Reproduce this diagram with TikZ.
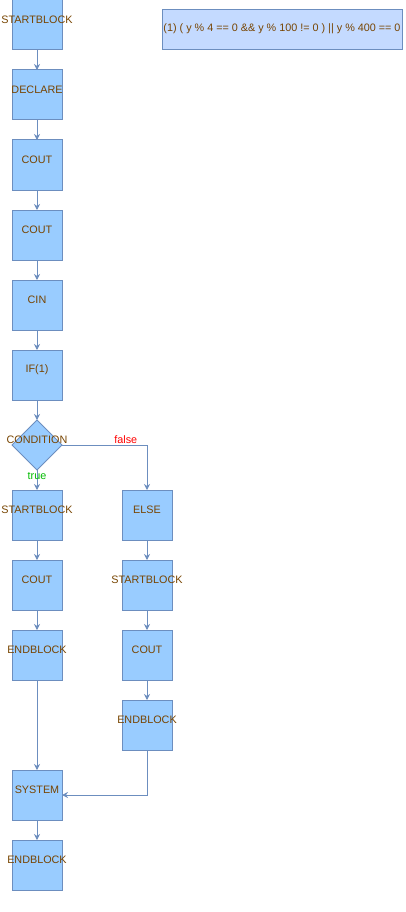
\documentclass[tikz,border=0pt]{standalone}
\usepackage{fontspec}
\setmainfont{Liberation Sans}
\usetikzlibrary{positioning, shapes.geometric, arrows.meta}
\definecolor{boxfill}{HTML}{99CCFF}
\definecolor{boxline}{HTML}{6C8EBF}
\definecolor{notefill}{HTML}{C4DAFF}
\definecolor{nametext}{HTML}{774400}
\definecolor{truegreen}{HTML}{00BB00}
\definecolor{falsered}{HTML}{FF0000}

\begin{document}
\begin{tikzpicture}[x=1pt, y=-1pt, node distance=20pt, >={Stealth[length=6pt, width=6pt]},
        every node/.style={font=\fontsize{10.8}{13}\selectfont, text=nametext},
        block/.style={draw=boxline, fill=boxfill, line width=1pt, minimum size=50pt, inner sep=0pt, outer sep=0pt, label={[yshift=5pt]center:#1}},
        cond/.style={diamond, draw=boxline, fill=boxfill, line width=1pt, minimum width=50pt, minimum height=50pt, inner sep=0pt, outer sep=0pt, label={[yshift=5pt]center:#1}},
        note/.style={draw=boxline, fill=notefill, line width=1pt, minimum width=240pt, minimum height=40pt, inner sep=0pt, outer sep=0pt}]
        \useasboundingbox (0,0) rectangle (406,912);
        \node[block=STARTBLOCK] (start) at (37,25) {};
        \node[block=DECLARE, below=of start] (decl) {};
        \node[block=COUT, below=of decl] (cout1) {};
        \node[block=COUT, below=of cout1] (cout2) {};
        \node[block=CIN, below=of cout2] (cin) {};
        \node[block=IF(1), below=of cin] (if) {};
        \node[cond=CONDITION, below=of if] (cond) {};
        \node[block=STARTBLOCK, below=of cond] (tstart) {};
        \node[block=COUT, below=of tstart] (tcout) {};
        \node[block=ENDBLOCK, below=of tcout] (tend) {};
        \node[block=ELSE, right=60pt of tstart] (else) {};
        \node[block=STARTBLOCK, below=of else] (fstart) {};
        \node[block=COUT, below=of fstart] (fcout) {};
        \node[block=ENDBLOCK, below=of fcout] (fend) {};
        \node[block=SYSTEM, below=90pt of tend] (sys) {};
        \node[block=ENDBLOCK, below=of sys] (end) {};
        \node[note] (note) at (282,30) {\raisebox{4pt}{(1) ( y \% 4 == 0 \&\& y \% 100 != 0 ) || y \% 400 == 0}};

        \path[->, draw=boxline, line width=1pt]
            (start) edge (decl)
            (decl) edge (cout1)
            (cout1) edge (cout2)
            (cout2) edge (cin)
            (cin) edge (if)
            (if) edge (cond)
            (cond) edge node[pos=0.05, below, inner sep=1pt, text=truegreen] {true} (tstart)
            (tstart) edge (tcout)
            (tcout) edge (tend)
            (else) edge (fstart)
            (fstart) edge (fcout)
            (fcout) edge (fend)
            (tend) edge (sys)
            (sys) edge (end);
        \draw[->, draw=boxline, line width=1pt] (cond.east) -| node[pos=0.375, above, inner sep=1pt, text=falsered] {false} (else.north);
        \draw[->, draw=boxline, line width=1pt] (fend.south) |- (sys.east);
    \end{tikzpicture}
\end{document}
